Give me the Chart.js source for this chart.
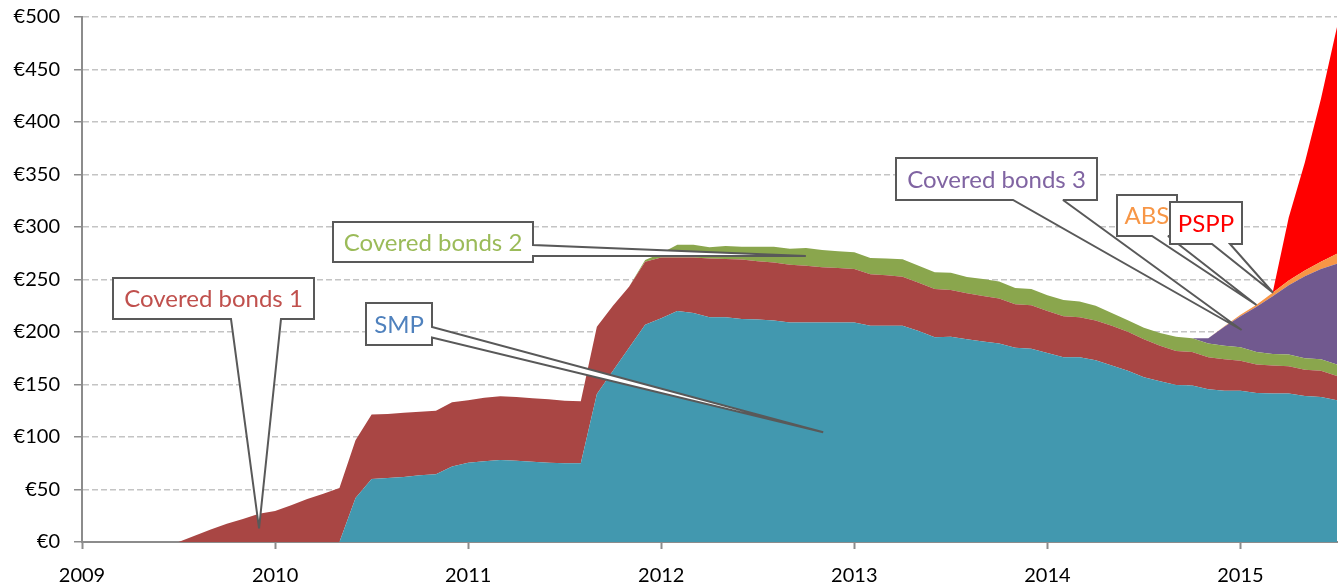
<!DOCTYPE html>
<html><head><meta charset="utf-8">
<script src="https://cdn.jsdelivr.net/npm/chart.js@4.4.1/dist/chart.umd.min.js"></script>
<style>html,body{margin:0;padding:0;background:#fff}#wrap{width:1344px;height:586px;position:relative}canvas{display:block}</style>
</head><body><div id="wrap"><canvas id="c" width="1344" height="586"></canvas></div>
<script>
// Month categories (x values)
const months = [
 "2009-01","2009-02","2009-03","2009-04","2009-05","2009-06","2009-07","2009-08","2009-09","2009-10","2009-11","2009-12",
 "2010-01","2010-02","2010-03","2010-04","2010-05","2010-06","2010-07","2010-08","2010-09","2010-10","2010-11","2010-12",
 "2011-01","2011-02","2011-03","2011-04","2011-05","2011-06","2011-07","2011-08","2011-09","2011-10","2011-11","2011-12",
 "2012-01","2012-02","2012-03","2012-04","2012-05","2012-06","2012-07","2012-08","2012-09","2012-10","2012-11","2012-12",
 "2013-01","2013-02","2013-03","2013-04","2013-05","2013-06","2013-07","2013-08","2013-09","2013-10","2013-11","2013-12",
 "2014-01","2014-02","2014-03","2014-04","2014-05","2014-06","2014-07","2014-08","2014-09","2014-10","2014-11","2014-12",
 "2015-01","2015-02","2015-03","2015-04","2015-05","2015-06","2015-07"
];
// Series values (EUR bn)
const smp = [
 0,0,0,0,0,0,0,0,0,0,0,0,
 0,0,0,0,0,42,60,61,62,63.5,64.5,72,
 75.5,77,78,77.5,76.5,75.5,75,75,141,163,185,207,
 213,220,218,214,214,212.5,212,211,209,209,209,209,
 209,206,206,206,201,195,195.5,193,191,189,185,184,
 180,176,176,173,168,163,157,153,149.5,149,145.5,144,
 144,142,141.5,141.5,139,138,135
];
const coveredBonds1 = [
 0,0,0,0,0,0,0,6,12,17.5,22,27,
 29.5,35,41,46,51.5,55,61.5,61,61,60.5,60.5,61,
 59.5,60.4,60.7,60.5,60.5,60.5,59.5,59,64,62,58,60,
 58,51,53,56,55.5,56.5,55.5,55.3,55,54,52.6,52,
 51,49,48,46.7,46,46,44.5,44,43.3,43,41.5,41.4,
 40,39,38,38,38,37.3,36,34,32.5,32,30.5,30,
 28.7,27,26.5,26,25,25,23
];
const coveredBonds2 = [
 0,0,0,0,0,0,0,0,0,0,0,0,
 0,0,0,0,0,0,0,0,0,0,0,0,
 0,0,0,0,0,0,0,0,0,0,0,1.5,
 4,12,12,10.6,12.5,12.3,13.8,15,15.3,17,16.4,16,
 16,15.5,16,16.5,16,15.8,16.5,15.5,16.2,16,15.5,15.6,
 15,15.5,15,14,12,11,11,12,13.5,13,13,13,
 12.8,12,11,11,11,11,11
];
const coveredBonds3 = [
 0,0,0,0,0,0,0,0,0,0,0,0,
 0,0,0,0,0,0,0,0,0,0,0,0,
 0,0,0,0,0,0,0,0,0,0,0,0,
 0,0,0,0,0,0,0,0,0,0,0,0,
 0,0,0,0,0,0,0,0,0,0,0,0,
 0,0,0,0,0,0,0,0,0,0,5,18,
 29.5,43,55,66,78,86,96
];
const abs = [
 0,0,0,0,0,0,0,0,0,0,0,0,
 0,0,0,0,0,0,0,0,0,0,0,0,
 0,0,0,0,0,0,0,0,0,0,0,0,
 0,0,0,0,0,0,0,0,0,0,0,0,
 0,0,0,0,0,0,0,0,0,0,0,0,
 0,0,0,0,0,0,0,0,0,0,0,0.5,
 1.5,2,3.5,4.5,5.5,7,9.5
];
const pspp = [
 0,0,0,0,0,0,0,0,0,0,0,0,
 0,0,0,0,0,0,0,0,0,0,0,0,
 0,0,0,0,0,0,0,0,0,0,0,0,
 0,0,0,0,0,0,0,0,0,0,0,0,
 0,0,0,0,0,0,0,0,0,0,0,0,
 0,0,0,0,0,0,0,0,0,0,0,0,
 0,0,0,60,103,155,216
];
const yearTicks = [2009,2010,2011,2012,2013,2014,2015];
const yTickValues = [0,50,100,150,200,250,300,350,400,450,500];

// Callout annotations (tip in data coordinates)
const callouts = [
 {text:"Covered bonds 1", color:"#C0504D", box:[113,278,314,319], side:"bottom", base:[231,281], tip:[2009.917,13]},
 {text:"Covered bonds 2", color:"#9BBB59", box:[333,222,533,262], side:"right", base:[245,256], tip:[2012.749,272.4]},
 {text:"SMP", color:"#4F81BD", box:[366,303,432,345], side:"right", base:[327,337.5], tip:[2012.839,104.5]},
 {text:"Covered bonds 3", color:"#8064A2", box:[896,158,1097,200], side:"bottom", base:[1013,1063], tip:[2015.006,201.9]},
 {text:"ABS", color:"#F79646", box:[1117,195,1177,236], side:"bottom", base:[1152,1168], tip:[2015.083,225.7]},
 {text:"PSPP", color:"#FF0000", box:[1170,202,1242,244], side:"bottom", base:[1212,1230], tip:[2015.169,237.4]}
];

const toX = s => { const p = s.split('-').map(Number); return p[0] + (p[1]-1)/12; };
const mk = arr => arr.map((v,i)=>({x: toX(months[i]), y: v}));

const series = [
 {label:'SMP', values: smp, color:'#4298AF'},
 {label:'Covered bonds 1', values: coveredBonds1, color:'#A94644'},
 {label:'Covered bonds 2', values: coveredBonds2, color:'#8AA64D'},
 {label:'Covered bonds 3', values: coveredBonds3, color:'#71598F'},
 {label:'ABS', values: abs, color:'#F79646'},
 {label:'PSPP', values: pspp, color:'#FF0000'}
];

const calloutPlugin = {
  id:'callouts',
  afterDraw(chart){
    const ctx = chart.ctx, xs = chart.scales.x, ys = chart.scales.y;
    ctx.save();
    callouts.forEach(c=>{
      const [x1,y1,x2,y2] = c.box;
      const tx = xs.getPixelForValue(c.tip[0]), ty = ys.getPixelForValue(c.tip[1]);
      ctx.beginPath();
      ctx.moveTo(x1,y1); ctx.lineTo(x2,y1);
      if (c.side === 'right') {
        ctx.lineTo(x2,c.base[0]); ctx.lineTo(tx,ty); ctx.lineTo(x2,c.base[1]);
        ctx.lineTo(x2,y2); ctx.lineTo(x1,y2);
      } else {
        ctx.lineTo(x2,y2); ctx.lineTo(c.base[1],y2); ctx.lineTo(tx,ty);
        ctx.lineTo(c.base[0],y2); ctx.lineTo(x1,y2);
      }
      ctx.closePath();
      ctx.fillStyle = '#fff'; ctx.fill();
      ctx.lineWidth = 2; ctx.strokeStyle = '#595959'; ctx.lineJoin = 'miter'; ctx.miterLimit = 3;
      ctx.stroke();
      ctx.fillStyle = c.color; ctx.font = '24px Lato';
      ctx.textAlign = 'center'; ctx.textBaseline = 'middle';
      ctx.fillText(c.text, (x1+x2)/2, (y1+y2)/2 + 1);
    });
    ctx.restore();
  }
};

function draw(){
  const tickFont = {family:'Lato', size:20};
  new Chart(document.getElementById('c'), {
    type:'line',
    data:{ datasets: series.map((s,i)=>({
      label:s.label, data:mk(s.values), backgroundColor:s.color, borderColor:s.color,
      borderWidth:0, pointRadius:0, pointHoverRadius:0, tension:0,
      fill: i===0 ? 'origin' : '-1'
    }))},
    options:{
      responsive:false, animation:false, devicePixelRatio:1,
      layout:{padding:{left:0, top:17, right:7, bottom:0}},
      plugins:{legend:{display:false}, tooltip:{enabled:false}},
      events:[],
      scales:{
        x:{type:'linear', min:2009, max:2015.5,
          afterBuildTicks: s => { s.ticks = yearTicks.map(v=>({value:v})); },
          ticks:{callback:v=>String(v), font:tickFont, color:'#000', padding:15, maxRotation:0, autoSkip:false},
          grid:{drawOnChartArea:false, drawTicks:true, tickLength:7, tickColor:'#8C8C8C', tickWidth:2},
          border:{display:true, color:'#8C8C8C', width:2},
          afterFit: s => { s.height = 44; s.paddingLeft = 0; s.paddingRight = 0; }
        },
        y:{stacked:true, min:0, max:500,
          afterBuildTicks: s => { s.ticks = yTickValues.map(v=>({value:v})); },
          ticks:{callback:v=>'€'+v, font:tickFont, color:'#000', padding:14},
          grid:{color:'#C4C4C4', lineWidth:1.5, drawTicks:true, tickLength:8, tickColor:'#8C8C8C', tickWidth:1.5},
          border:{display:true, color:'#8C8C8C', width:2, dash:[6,3]},
          afterFit: s => { s.width = 82; s.paddingTop = 0; s.paddingBottom = 0; }
        }
      }
    },
    plugins:[calloutPlugin]
  });
}
Promise.all([document.fonts.load('20px Lato'), document.fonts.load('24px Lato')]).then(draw, draw);
</script>
</body></html>
